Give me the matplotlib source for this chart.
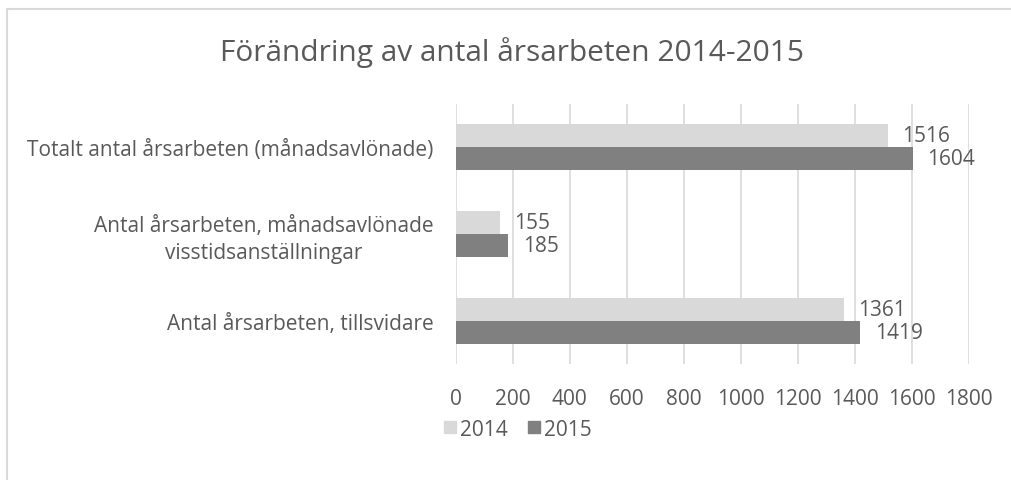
import matplotlib
matplotlib.use("Agg")
import matplotlib.pyplot as plt
from matplotlib.lines import Line2D
from matplotlib.patches import Patch

categories = ["Totalt antal årsarbeten (månadsavlönade)",
              "Antal årsarbeten, månadsavlönade\nvisstidsanställningar",
              "Antal årsarbeten, tillsvidare"]
values_2014 = [1516, 155, 1361]
values_2015 = [1604, 185, 1419]
series_names = ["2014", "2015"]
xticks = [0, 200, 400, 600, 800, 1000, 1200, 1400, 1600, 1800]

TXT = "#595959"
C14 = "#d9d9d9"
C15 = "#808080"
plt.rcParams['font.family'] = ['Open Sans', 'DejaVu Sans']
FS = 15

W, H = 1011, 481
fig = plt.figure(figsize=(W/100, H/100), dpi=100)
ax = fig.add_axes([455.7/W, 1-365/H, (968.7-455.7)/W, 260/H])

n = len(categories)
ypos = list(range(n))
bh = 0.265
ax.barh([y - bh/2 for y in ypos], values_2014, height=bh, color=C14, zorder=2)
ax.barh([y + bh/2 for y in ypos], values_2015, height=bh, color=C15, zorder=2)
ax.set_ylim(n - 0.5, -0.5)
ax.set_xlim(0, 1800)
ax.set_xticks(xticks)
ax.set_xticklabels([str(t) for t in xticks])
ax.set_yticks(ypos)
ax.set_yticklabels(categories, multialignment='center', linespacing=1.35)
ax.tick_params(axis='both', length=0, labelsize=FS, labelcolor=TXT)
ax.tick_params(axis='x', pad=17)
ax.tick_params(axis='y', pad=16)
for s in ax.spines.values():
    s.set_visible(False)
ax.grid(axis='x', color="#d9d9d9", linewidth=1.2, zorder=0)
ax.set_axisbelow(True)

for y, v in zip(ypos, values_2014):
    ax.annotate(str(v), (v, y - bh/2), xytext=(10.5, 0), textcoords='offset points',
                va='center', ha='left', fontsize=FS, color=TXT)
for y, v in zip(ypos, values_2015):
    ax.annotate(str(v), (v, y + bh/2), xytext=(10.5, 0), textcoords='offset points',
                va='center', ha='left', fontsize=FS, color=TXT)

fig.text(512/W, 1-53/H, "Förändring av antal årsarbeten 2014-2015", ha='center', va='center',
         fontsize=21.5, color=TXT)

handles = [Patch(color=C14, label=series_names[0]), Patch(color=C15, label=series_names[1])]
leg = fig.legend(handles=handles, loc='center', bbox_to_anchor=(518/W, 1-430/H), ncol=2,
                 frameon=False, fontsize=FS, handlelength=0.55, handleheight=0.55,
                 handletextpad=0.2, columnspacing=1.0, labelcolor=TXT)

fig.add_artist(Line2D([6.5/W, 1], [1-9.5/H, 1-9.5/H], color="#d9d9d9", linewidth=1.5))
fig.add_artist(Line2D([6.5/W, 6.5/W], [0, 1-9.5/H], color="#d9d9d9", linewidth=1.5))

fig.savefig("out.png", dpi=100)
